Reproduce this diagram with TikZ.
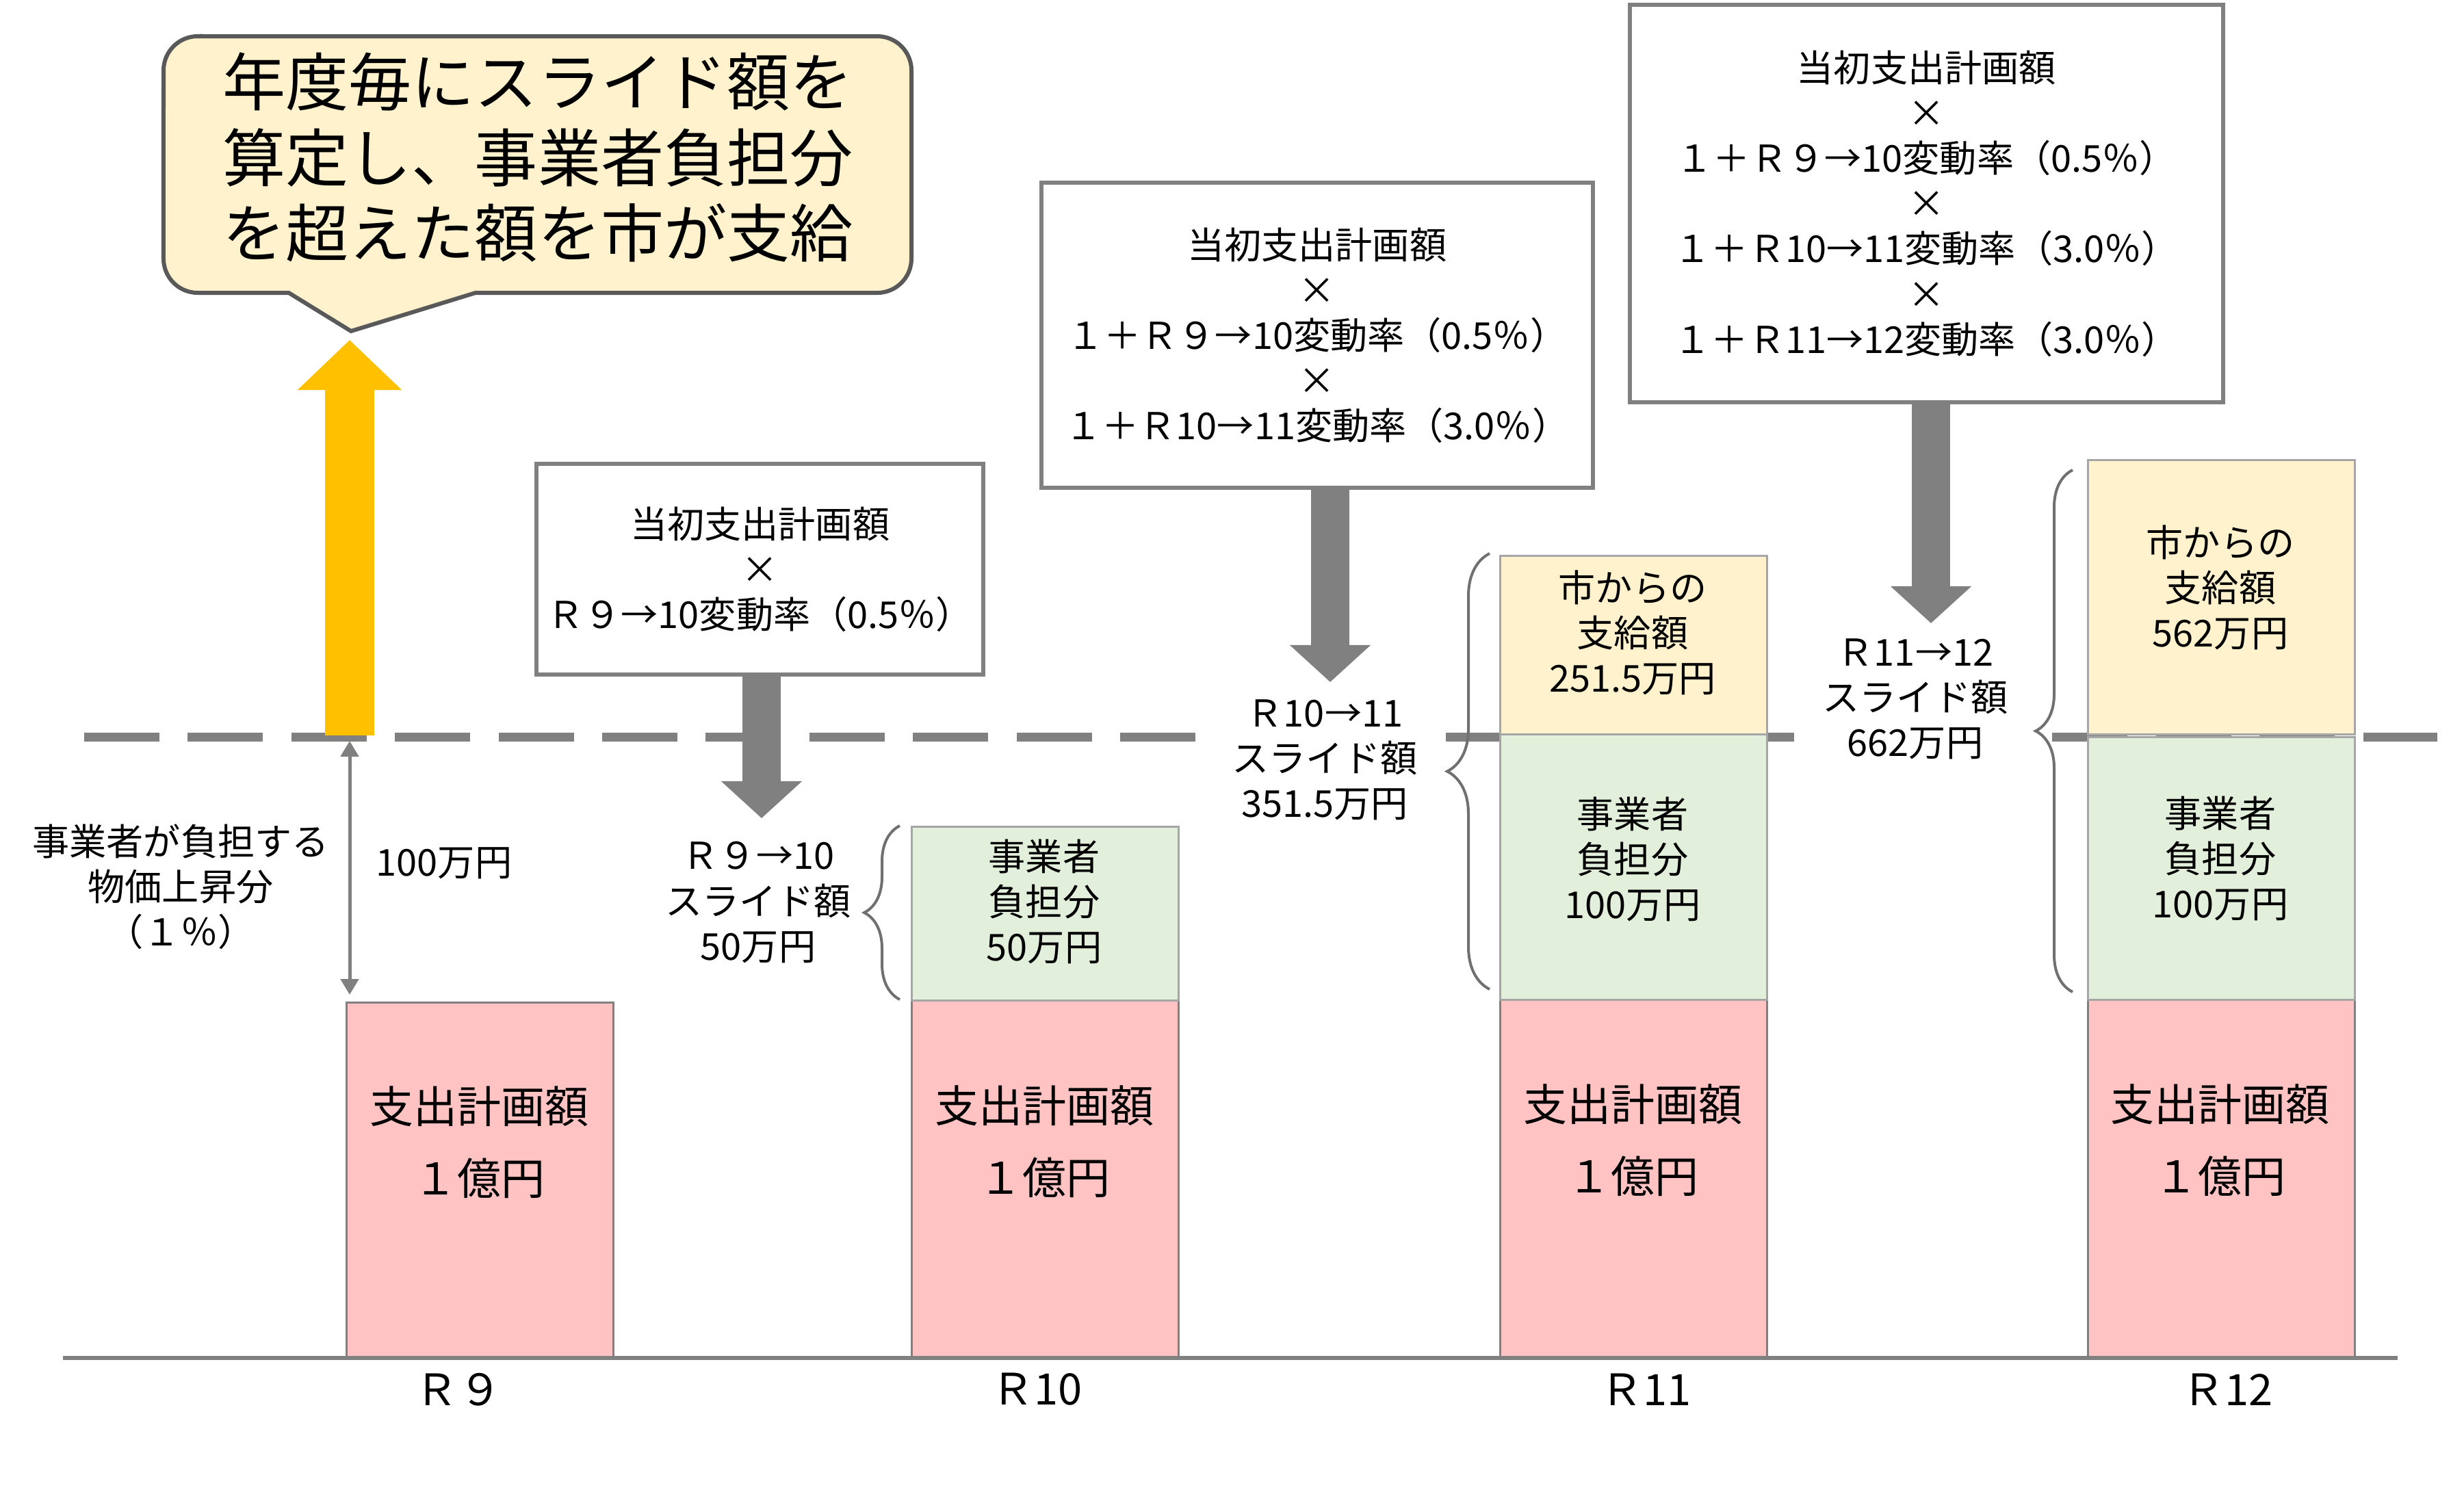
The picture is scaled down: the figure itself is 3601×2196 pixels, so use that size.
\documentclass[tikz,border=0pt]{standalone}
\usepackage{fontspec}
\setmainfont{Noto Sans CJK JP}
\usetikzlibrary{arrows.meta,decorations.pathreplacing}
\definecolor{pinkfill}{HTML}{FFC3C3}
\definecolor{yelfill}{HTML}{FFF2CC}
\definecolor{grnfill}{HTML}{E2EFDA}
\definecolor{midgray}{HTML}{808080}
\definecolor{ltgray}{HTML}{A6A6A6}
\definecolor{dkgray}{HTML}{595959}
\definecolor{bracegray}{HTML}{707070}
\definecolor{gold}{HTML}{FFC000}
\tikzset{
  dashln/.style={draw=midgray, line width=0.13cm, dash pattern=on 1.10cm off 0.413cm},
  axisln/.style={draw=midgray, line width=0.06cm},
  pinkbox/.style={draw=midgray, line width=0.03cm, fill=pinkfill, anchor=north west, inner sep=0pt, minimum width=3.90cm},
  grnbox/.style={draw=ltgray, line width=0.025cm, fill=grnfill, anchor=north west, inner sep=0pt, minimum width=3.90cm},
  yelbox/.style={draw=ltgray, line width=0.025cm, fill=yelfill, anchor=north west, inner sep=0pt, minimum width=3.90cm},
  fbox/.style={draw=midgray, line width=0.06cm, fill=white, anchor=north west, inner sep=0pt},
  txt/.style={align=center, inner sep=0pt, font=\fontsize{15.4}{18.8}\selectfont},
  wtxt/.style={txt, fill=white, inner xsep=0.42cm, inner ysep=0.06cm},
  pinktxt/.style={align=center, inner sep=0pt, font=\fontsize{18.2}{29.9}\selectfont},
  axtxt/.style={inner sep=0pt, font=\fontsize{18}{20}\selectfont},
  bigtxt/.style={align=center, inner sep=0pt, font=\fontsize{26.2}{31.3}\selectfont},
  garrow/.style={draw=midgray, line width=0.56cm, -{Triangle[width=1.15cm,length=0.54cm]}},
  yarrow/.style={draw=gold, line width=0.72cm, -{Triangle[width=1.48cm,length=0.73cm]}},
  darrow/.style={draw=midgray, line width=0.05cm, {Triangle[width=0.26cm,length=0.23cm]}-{Triangle[width=0.26cm,length=0.23cm]}},
  bracest/.style={draw=bracegray, line width=0.04cm, decorate, decoration={brace, amplitude=#1}},
}
\begin{document}
\begin{tikzpicture}[x=0.01cm,y=-0.01cm]
\useasboundingbox (0,0) rectangle (3601,2196);

% dashed reference line
\coordinate (dl) at (123,1077);
\coordinate (dr) at (3562,1077);
\draw[dashln] (dl) -- (dr);

% callout
\draw[draw=dkgray, fill=yelfill, line width=0.06cm]
  (289,53) -- (1282,53) arc[start angle=90,end angle=0,radius=0.5cm]
  -- (1332,378) arc[start angle=0,end angle=-90,radius=0.5cm]
  -- (695,428) -- (513,484) -- (422,428)
  -- (289,428) arc[start angle=270,end angle=180,radius=0.5cm]
  -- (239,103) arc[start angle=180,end angle=90,radius=0.5cm] -- cycle;
\node[bigtxt] (call) at (786,230) {年度毎にスライド額を\\算定し、事業者負担分\\を超えた額を市が支給};

% bars
\node[pinkbox, minimum height=5.20cm] (p9) at (505,1464) {};
\node[pinkbox, minimum height=5.23cm] (p10) at (1331,1461) {};
\node[grnbox, minimum height=2.54cm] (g10) at (1331,1207) {};
\node[pinkbox, minimum height=5.22cm] (p11) at (2191,1460) {};
\node[grnbox, minimum height=3.88cm] (g11) at (2191,1072) {};
\node[yelbox, minimum height=2.61cm] (y11) at (2191,811) {};
\node[pinkbox, minimum height=5.22cm] (p12) at (3050,1460) {};
\node[grnbox, minimum height=3.84cm] (g12) at (3050,1076) {};
\node[yelbox, minimum height=4.01cm] (y12) at (3050,671) {};

% bar texts
\node[pinktxt] (p9t) at (700,1670) {支出計画額\\１億円};
\node[pinktxt] (p10t) at (1526,1669) {支出計画額\\１億円};
\node[pinktxt] (p11t) at (2386,1667) {支出計画額\\１億円};
\node[pinktxt] (p12t) at (3244,1667) {支出計画額\\１億円};
\node[txt] (g10t) at (1526,1318) {事業者\\負担分\\50万円};
\node[txt] (g11t) at (2386,1256) {事業者\\負担分\\100万円};
\node[txt] (g12t) at (3245,1255) {事業者\\負担分\\100万円};
\node[txt] (y11t) at (2386,925) {市からの\\支給額\\251.5万円};
\node[txt] (y12t) at (3245,859) {市からの\\支給額\\562万円};

% axis
\coordinate (al) at (92,1985);
\coordinate (ar) at (3504,1985);
\draw[axisln] (al) -- (ar);
\node[axtxt] (x9) at (670,2031) {Ｒ９};
\node[axtxt] (x10) at (1515,2031) {Ｒ10};
\node[axtxt] (x11) at (2405,2031) {Ｒ11};
\node[axtxt] (x12) at (3255,2031) {Ｒ12};

% formula boxes
\node[fbox, minimum width=6.53cm, minimum height=3.08cm] (b1) at (781,675) {};
\node[txt] (b1t) at (b1.center) {当初支出計画額\\×\\Ｒ９→10変動率（0.5％）};
\node[fbox, minimum width=8.05cm, minimum height=4.46cm] (b2) at (1519,264) {};
\node[txt] (b2t) at (b2.center) {当初支出計画額\\×\\１＋Ｒ９→10変動率（0.5％）\\×\\１＋Ｒ10→11変動率（3.0％）};
\node[fbox, minimum width=8.66cm, minimum height=5.81cm] (b3) at (2379,4) {};
\node[txt] (b3t) at (b3.center) {当初支出計画額\\×\\１＋Ｒ９→10変動率（0.5％）\\×\\１＋Ｒ10→11変動率（3.0％）\\×\\１＋Ｒ11→12変動率（3.0％）};

% slide amount labels
\node[txt] (s10) at (1108,1319) {Ｒ９→10\\スライド額\\50万円};
\node[wtxt] (s11) at (1936,1111) {Ｒ10→11\\スライド額\\351.5万円};
\node[wtxt] (s12) at (2799,1022) {Ｒ11→12\\スライド額\\662万円};

% left labels
\node[txt] (own) at (264,1296) {事業者が負担する\\物価上昇分\\（１％）};
\node[txt] (own100) at (649,1262) {100万円};

% braces
\draw[bracest=0.52cm] (1315,1461) -- (1315,1207);
\draw[bracest=0.62cm] (2177,1446) -- (2177,809);
\draw[bracest=0.54cm] (3029,1450) -- (3029,687);

% arrows
\coordinate (t1) at (1113,1196);
\coordinate (t2) at (1944,997);
\coordinate (t3) at (2822,911);
\draw[garrow] (b1.south -| t1) -- (t1);
\draw[garrow] (b2.south -| t2) -- (t2);
\draw[garrow] (b3.south -| t3) -- (t3);

\coordinate (ybase) at (511,1075);
\coordinate (ytip) at (511,497);
\draw[yarrow] (ybase) -- (ytip);

\coordinate (da) at (511,1083);
\coordinate (db) at (511,1454);
\draw[darrow] (da) -- (db);
\end{tikzpicture}
\end{document}
